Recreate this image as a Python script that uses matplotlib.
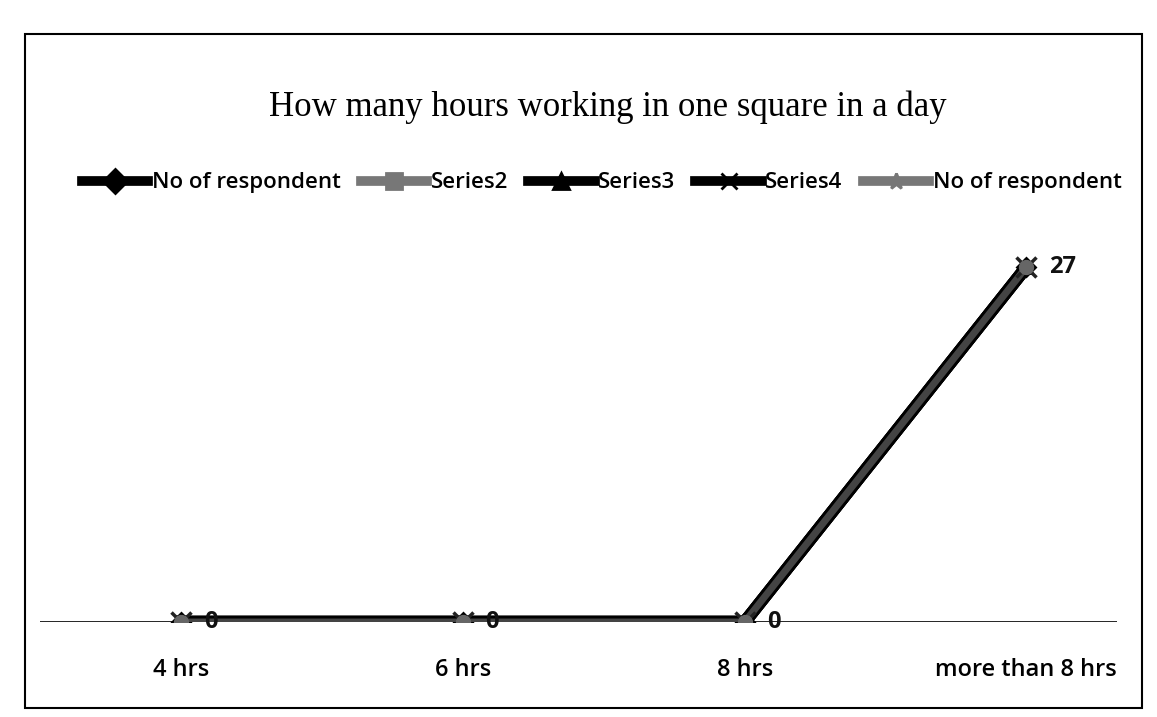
import matplotlib.pyplot as plt
from matplotlib.lines import Line2D
from matplotlib.patches import Rectangle

categories = ["4 hrs", "6 hrs", "8 hrs", "more than 8 hrs"]
series_names = ["No of respondent", "Series2", "Series3", "Series4", "No of respondent"]
respondents = [0, 0, 0, 27]

# marker / colour for each legend entry
markers = ["D", "s", "^", "x", "*"]
colors = ["black", "#777777", "black", "black", "#777777"]

fig = plt.figure(figsize=(11.57, 7.17), dpi=100)
ax = fig.add_axes([0.035, 0.1325, 0.93, 0.55])

x = list(range(len(categories)))

# all series overlap on the same values; draw the dark ones first
for name, m, c in zip(series_names, markers, colors):
    if c == "black":
        ax.plot(x, respondents, color=c, lw=9, marker=m, ms=9, mew=2, zorder=2)
ax.plot(x, respondents, color="#444444", lw=5, zorder=3)
ax.plot(x, respondents, ls="none", marker="x", color="#222222", ms=15, mew=2.5, zorder=4)
ax.plot(x, respondents, ls="none", marker="o", color="#666666", ms=10, zorder=5)

for xi, v in zip(x, respondents):
    ax.text(xi + 0.08, v, str(v), ha="left", va="center", fontsize=17,
            family="Open Sans", fontweight="bold", color="#111111", zorder=6)

ax.axhline(0, color="black", lw=1.2, zorder=1)
ax.set_xlim(-0.5, 3.32)
ax.set_ylim(0, 30)
ax.set_xticks(x)
ax.set_xticklabels(categories, fontsize=17, family="Open Sans", fontweight="semibold")
ax.tick_params(axis="x", length=0, pad=26)
ax.set_yticks([])
for s in ax.spines.values():
    s.set_visible(False)

fig.text(0.525, 0.85, "How many hours working in one square in a day", ha="center",
         va="center", fontsize=25, family="Liberation Serif")

handles = [Line2D([0], [0], color=c, lw=7, marker=m, ms=12, mew=2,
                  markerfacecolor=c, markeredgecolor=c)
           for m, c in zip(markers, colors)]
fig.legend(handles, series_names, loc="center", bbox_to_anchor=(0.52, 0.745), ncol=5,
           frameon=False, handlelength=3.0, handletextpad=0.15, columnspacing=0.9,
           prop={"family": "Open Sans", "size": 16, "weight": "semibold"})

fig.patches.append(Rectangle((0.022, 0.012), 0.965, 0.94, transform=fig.transFigure,
                             fill=False, edgecolor="black", lw=1.5))

fig.savefig("out.png", dpi=100)
